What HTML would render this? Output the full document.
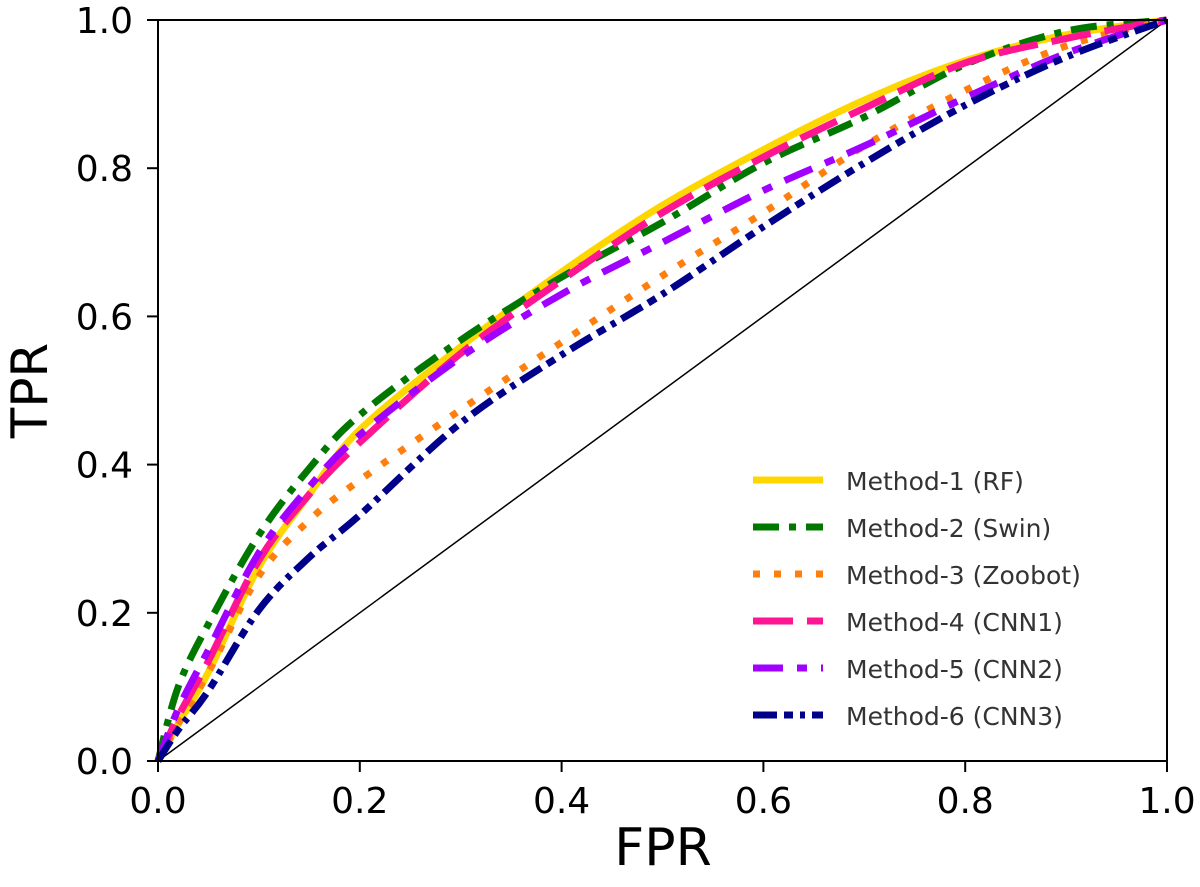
<!DOCTYPE html>
<html><head><meta charset="utf-8"><style>
body{margin:0;background:#fff;}
svg text{font-family:"DejaVu Sans","Liberation Sans",sans-serif;}
</style></head><body>
<svg id="chart" width="1200" height="882" xmlns="http://www.w3.org/2000/svg">
<g id="plot"></g>
</svg>
<script>
const fprs      = [0, 0.02, 0.05, 0.1, 0.15, 0.2, 0.3, 0.4, 0.5, 0.6, 0.7, 0.8, 0.9, 1.0];
const tprRF     = [0, 0.05, 0.12, 0.262, 0.36, 0.447, 0.559, 0.66, 0.75, 0.825, 0.892, 0.945, 0.98, 1.0];
const tprSwin   = [0, 0.10, 0.185, 0.305, 0.395, 0.467, 0.568, 0.653, 0.727, 0.807, 0.869, 0.94, 0.985, 1.0];
const tprZoobot = [0, 0.05, 0.12, 0.25, 0.325, 0.379, 0.474, 0.565, 0.655, 0.74, 0.83, 0.905, 0.965, 1.0];
const tprCNN1   = [0, 0.06, 0.135, 0.271, 0.36, 0.43, 0.55, 0.649, 0.74, 0.815, 0.881, 0.942, 0.975, 1.0];
const tprCNN2   = [0, 0.07, 0.15, 0.281, 0.37, 0.44, 0.545, 0.63, 0.7, 0.77, 0.83, 0.895, 0.955, 1.0];
const tprCNN3   = [0, 0.042, 0.095, 0.204, 0.275, 0.332, 0.456, 0.548, 0.63, 0.721, 0.807, 0.885, 0.95, 1.0];
const xTicks = [0, 0.2, 0.4, 0.6, 0.8, 1.0];
const yTicks = [0, 0.2, 0.4, 0.6, 0.8, 1.0];
const seriesNames = ["Method-1 (RF)","Method-2 (Swin)","Method-3 (Zoobot)","Method-4 (CNN1)","Method-5 (CNN2)","Method-6 (CNN3)"];

const X0=158,X1=1167,Y0=761,Y1=20;
const sx=v=>X0+v*(X1-X0), sy=v=>Y0-v*(Y0-Y1);
const NS="http://www.w3.org/2000/svg";
const g=document.getElementById('plot');
function mk(t,a){const e=document.createElementNS(NS,t);for(const k in a)e.setAttribute(k,a[k]);g.appendChild(e);return e;}

let d=mk('line',{x1:sx(0),y1:sy(0),x2:sx(1),y2:sy(1),stroke:'#000','stroke-width':1.5});



const styles=[
 {c:'#ffd700',dash:''},
 {c:'#007800',dash:'26 10 7 10'},
 {c:'#ff7f0e',dash:'7 14'},
 {c:'#ff1493',dash:'40 14'},
 {c:'#a000ff',dash:'30 14 10 14'},
 {c:'#00008b',dash:'24 7 9 7 5 7'}
];
const data=[tprRF,tprSwin,tprZoobot,tprCNN1,tprCNN2,tprCNN3];
function pathFor(ys){
  const pts=fprs.map((f,i)=>[sx(f),sy(ys[i])]);
  let s='M'+pts[0][0]+','+pts[0][1];
  for(let i=0;i<pts.length-1;i++){
    const p0=pts[Math.max(0,i-1)],p1=pts[i],p2=pts[i+1],p3=pts[Math.min(pts.length-1,i+2)];
    const c1=[p1[0]+(p2[0]-p0[0])/6,p1[1]+(p2[1]-p0[1])/6];
    const c2=[p2[0]-(p3[0]-p1[0])/6,p2[1]-(p3[1]-p1[1])/6];
    s+=` C${c1[0]},${c1[1]} ${c2[0]},${c2[1]} ${p2[0]},${p2[1]}`;
  }
  return s;
}
const keys=['rf','swin','zoobot','cnn1','cnn2','cnn3'];
data.forEach((ys,i)=>{
  const p=mk('path',{d:pathFor(ys),fill:'none',stroke:styles[i].c,'stroke-width':7,'stroke-dasharray':styles[i].dash});
  
  
});

let fr=mk('rect',{x:X0,y:Y1,width:X1-X0,height:Y0-Y1,fill:'none',stroke:'#000','stroke-width':2});



xTicks.forEach(v=>{
  mk('line',{x1:sx(v),y1:Y0,x2:sx(v),y2:Y0+11,stroke:'#000','stroke-width':2});
  const t=mk('text',{x:sx(v),y:813,'font-size':36,'text-anchor':'middle',fill:'#000'});
  t.textContent=v.toFixed(1);
  
  
});
yTicks.forEach(v=>{
  mk('line',{x1:X0-11,y1:sy(v),x2:X0,y2:sy(v),stroke:'#000','stroke-width':2});
  const t=mk('text',{x:X0-25,y:sy(v)+13,'font-size':36,'text-anchor':'end',fill:'#000'});
  t.textContent=v.toFixed(1);
  
  
});
let xt=mk('text',{x:663,y:865,'font-size':52,'text-anchor':'middle',fill:'#000'});
xt.textContent='FPR';


let yt=mk('text',{x:0,y:0,'font-size':50,'text-anchor':'middle',fill:'#000',transform:`translate(47,${(Y0+Y1)/2}) rotate(-90)`});
yt.textContent='TPR';



seriesNames.forEach((n,i)=>{
  const y=480+i*47;
  const l=mk('line',{x1:753,y1:y,x2:823,y2:y,stroke:styles[i].c,'stroke-width':7,'stroke-dasharray':styles[i].dash});
  
  
  const t=mk('text',{x:846,y:y+10,'font-size':25,fill:'#333'});
  t.textContent=n;
  
  
});
</script>
</body></html>
